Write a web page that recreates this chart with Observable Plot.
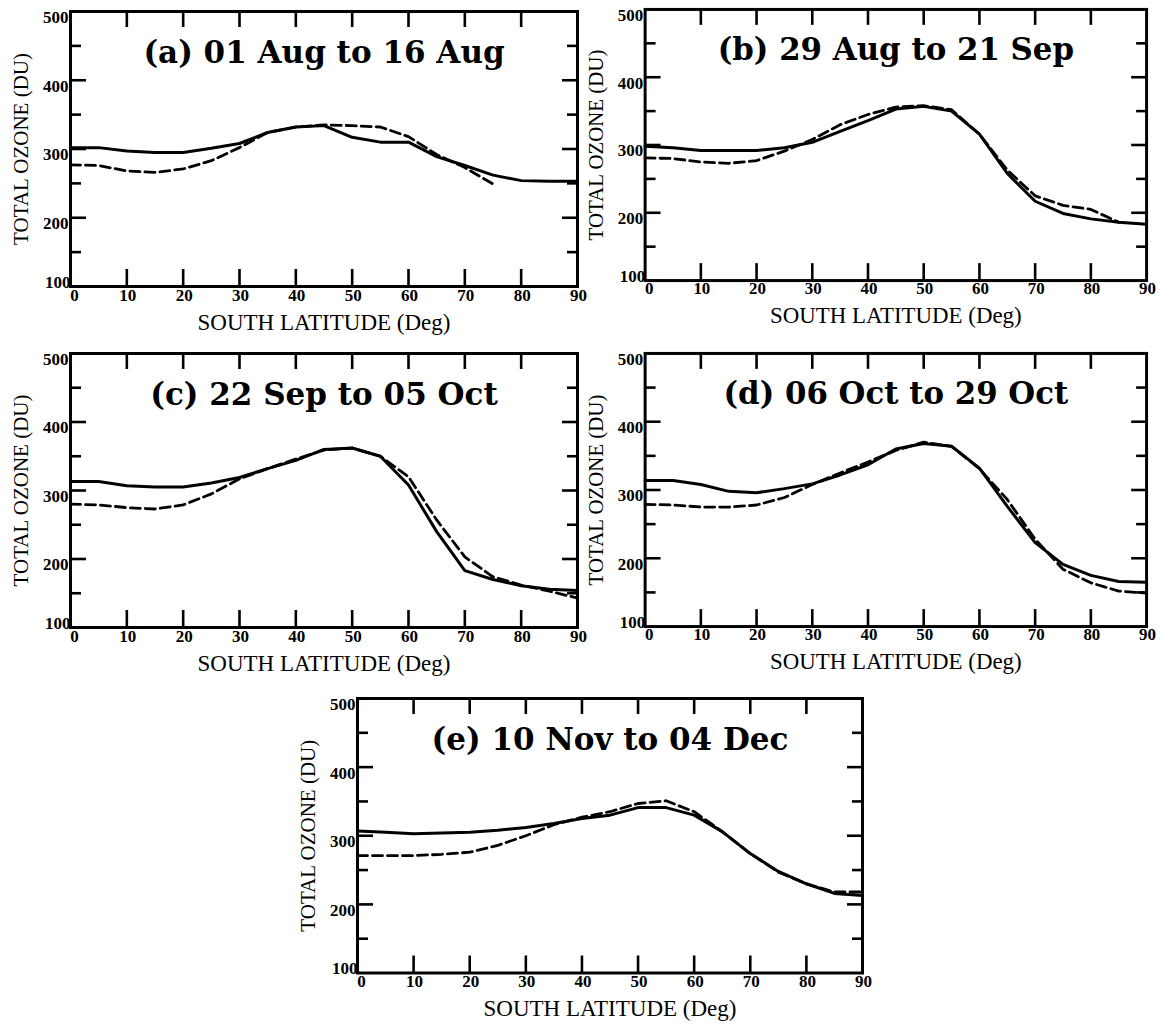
<!DOCTYPE html>
<html>
<head>
<meta charset="utf-8">
<script src="https://cdn.jsdelivr.net/npm/d3@7"></script>
<script src="https://cdn.jsdelivr.net/npm/@observablehq/plot@0.6"></script>
<style>
  html, body { margin: 0; padding: 0; background: #fff; overflow: hidden; }
  #page { position: relative; width: 1162px; height: 1030px; background: #fff; overflow: hidden; }
  .panel { position: absolute; }
</style>
</head>
<body>
<div id="page"></div>
<script>
// ---------------- data ----------------
const latitude = [0, 5, 10, 15, 20, 25, 30, 35, 40, 45, 50, 55, 60, 65, 70, 75, 80, 85, 90];

const panelTitles = [
  "(a) 01 Aug to 16 Aug",
  "(b) 29 Aug to 21 Sep",
  "(c) 22 Sep to 05 Oct",
  "(d) 06 Oct to 29 Oct",
  "(e) 10 Nov to 04 Dec"
];

const solidA  = [302, 302, 297, 295, 295, 301, 308, 324, 332, 334, 317, 310, 310, 289, 276, 262, 254, 253, 253];
const dashedA = [277, 276, 268, 266, 271, 283, 302, 324, 332, 335, 334, 332, 318, 292, 273, 249, null, null, null];

const solidB  = [298, 296, 292, 292, 292, 296, 304, 320, 336, 353, 357, 350, 316, 258, 217, 199, 191, 186, 183];
const dashedB = [281, 280, 275, 273, 277, 291, 308, 330, 345, 356, 358, 352, 316, 263, 225, 211, 205, 186, null];

const solidC  = [313, 313, 307, 305, 305, 311, 319, 332, 344, 360, 362, 350, 308, 240, 183, 170, 161, 156, 154];
const dashedC = [280, 279, 275, 273, 279, 295, 317, 332, 346, 359, 362, 350, 320, 257, 203, 174, 162, 153, 143];

const solidD  = [314, 314, 308, 298, 296, 302, 309, 322, 337, 360, 368, 364, 332, 276, 223, 191, 175, 166, 165];
const dashedD = [279, 278, 275, 275, 278, 289, 308, 325, 341, 358, 370, 364, 331, 286, 228, 184, 164, 152, 149];

const solidE  = [307, 305, 303, 304, 305, 308, 312, 318, 325, 330, 341, 341, 330, 306, 274, 248, 230, 216, 213];
const dashedE = [271, 271, 271, 273, 276, 286, 300, 316, 327, 335, 347, 351, 335, 306, 274, 247, 230, 218, 218];

const xTickValues = [10, 20, 30, 40, 50, 60, 70, 80];
const xTickLabels = [10, 20, 30, 40, 50, 60, 70, 80, 90];
const xFirstLabel = [0];
const yMajorTicks = [200, 300, 400];
const yMinorTicks = [150, 250, 350, 450];
const yTickLabels = [200, 300, 400, 500];
const yBottomLabel = [100];
const yAxisTitle = "TOTAL OZONE (DU)";
const xAxisTitle = "SOUTH LATITUDE (Deg)";

// ---------------- layout (frame box of each panel on the page) ----------------
const frames = [
  {fl: 70,  fr: 577,  ft: 11,    fb: 286},
  {fl: 645, fr: 1149, ft: 9,     fb: 281.5},
  {fl: 70,  fr: 577,  ft: 352.5, fb: 626.5},
  {fl: 645, fr: 1149, ft: 353,   fb: 627.5},
  {fl: 357, fr: 862,  ft: 698,   fb: 972.5}
];
const series = [
  [solidA, dashedA], [solidB, dashedB], [solidC, dashedC], [solidD, dashedD], [solidE, dashedE]
];

const ML = 75, MR = 16, MT = 12, MB = 62;
const serif = "'Liberation Serif', 'Times New Roman', serif";
const titleFont = "'DejaVu Serif', serif";

function toRows(values) {
  return latitude.map((x, i) => ({x, y: values[i]})).filter(d => d.y != null);
}

const page = document.getElementById("page");

frames.forEach((f, i) => {
  const [solid, dashed] = series[i];
  const width = f.fr - f.fl + ML + MR;
  const height = f.fb - f.ft + MT + MB;
  const tickFont = {fontSize: 17, fontWeight: "bold", fontFamily: serif, fill: "black"};
  const chart = Plot.plot({
    width, height,
    marginLeft: ML, marginRight: MR, marginTop: MT, marginBottom: MB,
    x: {domain: [0, 90], axis: null},
    y: {domain: [100, 500], axis: null},
    style: {background: "transparent", color: "black", fontFamily: serif, overflow: "visible"},
    marks: [
      // inward ticks
      Plot.axisX(xTickValues, {anchor: "bottom", tickSize: 17, dy: -17, fill: "none", strokeWidth: 2.6}),
      Plot.axisX(xTickValues, {anchor: "top", tickSize: 15, dy: 15, fill: "none", strokeWidth: 2.6}),
      Plot.axisY(yMajorTicks, {anchor: "left", tickSize: 16, dx: 16, fill: "none", strokeWidth: 2.6}),
      Plot.axisY(yMinorTicks, {anchor: "left", tickSize: 11, dx: 11, fill: "none", strokeWidth: 2.6}),
      Plot.axisY(yMajorTicks, {anchor: "right", tickSize: 16, dx: -16, fill: "none", strokeWidth: 2.6}),
      Plot.axisY(yMinorTicks, {anchor: "right", tickSize: 11, dx: -11, fill: "none", strokeWidth: 2.6}),
      // tick labels
      Plot.text(xTickLabels, {x: d => d, text: d => String(d), frameAnchor: "bottom", textAnchor: "middle", dy: 14, dx: 1, ...tickFont}),
      Plot.text(xFirstLabel, {x: d => d, text: d => String(d), frameAnchor: "bottom", textAnchor: "middle", dy: 14, dx: 4, ...tickFont}),
      Plot.text(yTickLabels, {y: d => d, text: d => String(d), frameAnchor: "left", textAnchor: "end",
        dx: -2, dy: 6, ...tickFont}),
      Plot.text(yBottomLabel, {y: d => d, text: d => String(d), frameAnchor: "left", textAnchor: "end",
        dx: 0, dy: -4, ...tickFont}),
      // axis titles
      Plot.text([yAxisTitle], {frameAnchor: "left", textAnchor: "middle", rotate: -90, dx: -49,
        fontSize: 21, fontFamily: serif, fill: "black"}),
      Plot.text([xAxisTitle], {frameAnchor: "bottom", textAnchor: "middle", dy: 43,
        fontSize: 23, fontFamily: serif, fill: "black"}),
      // panel title
      Plot.text([panelTitles[i]], {frameAnchor: "top", textAnchor: "middle", dy: 29,
        fontSize: 31, fontWeight: "bold", fontFamily: titleFont, fill: "black"}),
      // data
      Plot.line(toRows(solid), {x: "x", y: "y", stroke: "black", strokeWidth: 3, curve: "linear"}),
      Plot.line(toRows(dashed), {x: "x", y: "y", stroke: "black", strokeWidth: 2.8, strokeDasharray: "10,5", curve: "linear"}),
      Plot.frame({stroke: "black", strokeWidth: 3})
    ]
  });
  const div = document.createElement("div");
  div.className = "panel";
  div.style.left = (f.fl - ML) + "px";
  div.style.top = (f.ft - MT) + "px";
  div.appendChild(chart);
  page.appendChild(div);
});
</script>
</body>
</html>
